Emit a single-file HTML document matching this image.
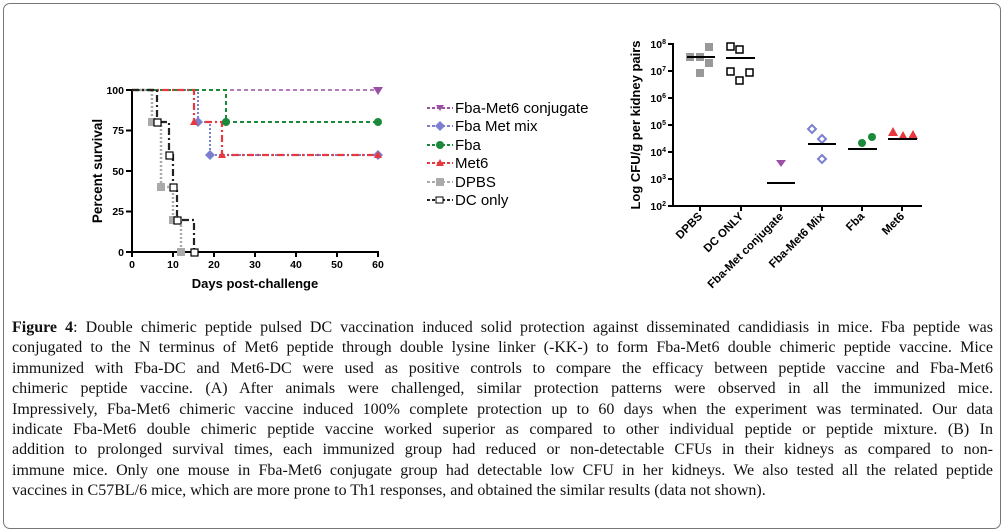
<!DOCTYPE html>
<html><head><meta charset="utf-8"><style>
html,body{margin:0;padding:0;background:#fff;}
body{width:1005px;height:531px;position:relative;overflow:hidden;}
.box{position:absolute;left:3px;top:3px;width:996px;height:524px;border:1px solid #777;border-radius:7px;}
svg{position:absolute;left:0;top:0;}
.cap{position:absolute;left:12px;top:318px;width:981px;font-family:"Liberation Serif",serif;font-size:16px;color:#111;}
.cap div{height:20.4px;line-height:20.4px;text-align:justify;text-align-last:justify;white-space:nowrap;}
.cap div.last{text-align-last:left;}
</style></head><body>
<div class="box"></div>
<svg width="1005" height="531" font-family="Liberation Sans, Arial, sans-serif">
<g stroke="#000" stroke-width="2" fill="none">
<line x1="132" y1="89" x2="132" y2="253"/>
<line x1="131" y1="252" x2="379" y2="252"/>
<line x1="126" y1="90" x2="132" y2="90"/><line x1="126" y1="130.5" x2="132" y2="130.5"/><line x1="126" y1="171" x2="132" y2="171"/><line x1="126" y1="211.5" x2="132" y2="211.5"/><line x1="126" y1="252" x2="132" y2="252"/>
<line x1="132" y1="252" x2="132" y2="257"/><line x1="173" y1="252" x2="173" y2="257"/><line x1="214" y1="252" x2="214" y2="257"/><line x1="255" y1="252" x2="255" y2="257"/><line x1="296" y1="252" x2="296" y2="257"/><line x1="337" y1="252" x2="337" y2="257"/><line x1="378" y1="252" x2="378" y2="257"/>
</g>
<g font-size="10.5" font-weight="bold" text-anchor="end">
<text x="124" y="94">100</text><text x="124" y="134">75</text><text x="124" y="175">50</text><text x="124" y="215">25</text><text x="124" y="256">0</text>
</g>
<g font-size="10.5" font-weight="bold" text-anchor="middle">
<text x="132" y="268">0</text><text x="173" y="268">10</text><text x="214" y="268">20</text><text x="255" y="268">30</text><text x="296" y="268">40</text><text x="337" y="268">50</text><text x="378" y="268">60</text>
</g>
<text x="255" y="288" font-size="13" font-weight="bold" text-anchor="middle">Days post-challenge</text>
<text transform="translate(102,171) rotate(-90)" font-size="13.5" font-weight="bold" text-anchor="middle">Percent survival</text>
<g fill="none">
<polyline points="132,90 378,90" stroke="#9b4fa5" stroke-width="1.5" stroke-dasharray="4,3"/>
<polyline points="132,90 198,90 198,122 210,122 210,155 378,155" stroke="#7b7fcf" stroke-width="2" stroke-dasharray="2,2"/>
<polyline points="132,90 226,90 226,122 378,122" stroke="#1a8a3a" stroke-width="2" stroke-dasharray="4,3"/>
<polyline points="132,90 194,90 194,122 222,122 222,155 378,155" stroke="#e8383f" stroke-width="2.2" stroke-dasharray="7,3,2,3"/>
<polyline points="132,90 152,90 152,122 161,122 161,187 173,187 173,220 181,220 181,252" stroke="#aaa" stroke-width="2.5" stroke-dasharray="2,2"/>
<polyline points="132,90 157,90 157,122 169,122 169,155 173,155 173,187 177,187 177,220 194,220 194,252" stroke="#222" stroke-width="2.2" stroke-dasharray="7,3,2,3"/>
</g>
<polygon points="373,87 383,87 378,95" fill="#9b4fa5"/>
<g fill="#7b7fcf"><polygon points="198,117 203,122 198,127 193,122"/><polygon points="210,150 215,155 210,160 205,155"/><polygon points="378,150 383,155 378,160 373,155"/></g>
<g fill="#1a8a3a"><circle cx="226" cy="122" r="4"/><circle cx="378" cy="122" r="4"/></g>
<g fill="#e8383f"><polygon points="194,118 198,125 190,125"/><polygon points="222,151 226,158 218,158"/><polygon points="378,151 382,158 374,158"/></g>
<g fill="#aaa"><rect x="148" y="118" width="8" height="8"/><rect x="157" y="183" width="8" height="8"/><rect x="169" y="216" width="8" height="8"/><rect x="177" y="248" width="8" height="8"/></g>
<g fill="#fff" stroke="#000" stroke-width="1.2"><rect x="154" y="119" width="7" height="7"/><rect x="166" y="152" width="7" height="7"/><rect x="170" y="184" width="7" height="7"/><rect x="174" y="217" width="7" height="7"/><rect x="191" y="249" width="7" height="7"/></g>
<g font-size="15">
<line x1="427" y1="108" x2="453" y2="108" stroke="#9b4fa5" stroke-width="2" stroke-dasharray="3,2"/><polygon points="436,105 444,105 440,111" fill="#9b4fa5"/><text x="455" y="113">Fba-Met6 conjugate</text>
<line x1="427" y1="126" x2="453" y2="126" stroke="#7b7fcf" stroke-width="2" stroke-dasharray="3,2"/><polygon points="440,121 445,126 440,131 435,126" fill="#7b7fcf"/><text x="455" y="131">Fba Met mix</text>
<line x1="427" y1="145" x2="453" y2="145" stroke="#1a8a3a" stroke-width="2" stroke-dasharray="3,2"/><circle cx="440" cy="145" r="4" fill="#1a8a3a"/><text x="455" y="150">Fba</text>
<line x1="427" y1="163" x2="453" y2="163" stroke="#e8383f" stroke-width="2" stroke-dasharray="3,2"/><polygon points="440,159 444,166 436,166" fill="#e8383f"/><text x="455" y="168">Met6</text>
<line x1="427" y1="182" x2="453" y2="182" stroke="#aaa" stroke-width="2" stroke-dasharray="3,2"/><rect x="436" y="178" width="8" height="8" fill="#aaa"/><text x="455" y="187">DPBS</text>
<line x1="427" y1="200" x2="453" y2="200" stroke="#222" stroke-width="2" stroke-dasharray="3,2"/><rect x="436" y="197" width="7" height="6" fill="#fff" stroke="#000"/><text x="455" y="205">DC only</text>
</g>
<g stroke="#000" stroke-width="2" fill="none">
<line x1="673" y1="43" x2="673" y2="207"/>
<line x1="672" y1="206" x2="922" y2="206"/>
<line x1="668" y1="44" x2="673" y2="44"/><line x1="668" y1="71" x2="673" y2="71"/><line x1="668" y1="98" x2="673" y2="98"/><line x1="668" y1="125" x2="673" y2="125"/><line x1="668" y1="152" x2="673" y2="152"/><line x1="668" y1="179" x2="673" y2="179"/><line x1="668" y1="206" x2="673" y2="206"/>
<line x1="700" y1="206" x2="700" y2="211"/><line x1="741" y1="206" x2="741" y2="211"/><line x1="781" y1="206" x2="781" y2="211"/><line x1="822" y1="206" x2="822" y2="211"/><line x1="862" y1="206" x2="862" y2="211"/><line x1="902" y1="206" x2="902" y2="211"/>
</g>
<g font-size="10.5" font-weight="bold" text-anchor="end">
<text x="666" y="48">10<tspan font-size="7" dy="-4">8</tspan></text>
<text x="666" y="75">10<tspan font-size="7" dy="-4">7</tspan></text>
<text x="666" y="102">10<tspan font-size="7" dy="-4">6</tspan></text>
<text x="666" y="129">10<tspan font-size="7" dy="-4">5</tspan></text>
<text x="666" y="156">10<tspan font-size="7" dy="-4">4</tspan></text>
<text x="666" y="183">10<tspan font-size="7" dy="-4">3</tspan></text>
<text x="666" y="210">10<tspan font-size="7" dy="-4">2</tspan></text>
</g>
<text transform="translate(640,125) rotate(-90)" font-size="13" font-weight="bold" text-anchor="middle">Log CFU/g per kidney pairs</text>
<g font-size="11.5" font-weight="bold" text-anchor="end">
<text transform="translate(703,217) rotate(-45)">DPBS</text>
<text transform="translate(744,217) rotate(-45)">DC ONLY</text>
<text transform="translate(784,217) rotate(-45)">Fba-Met conjugate</text>
<text transform="translate(825,217) rotate(-45)">Fba-Met6 Mix</text>
<text transform="translate(865,217) rotate(-45)">Fba</text>
<text transform="translate(905,217) rotate(-45)">Met6</text>
</g>
<g fill="#999"><rect x="686" y="53" width="8" height="8"/><rect x="696" y="53" width="8" height="8"/><rect x="705" y="43" width="8" height="8"/><rect x="705" y="59" width="8" height="8"/><rect x="696" y="69" width="8" height="8"/></g>
<g fill="#fff" stroke="#000" stroke-width="1.5"><rect x="727" y="43" width="7" height="7"/><rect x="736" y="46" width="7" height="7"/><rect x="727" y="68" width="7" height="7"/><rect x="736" y="77" width="7" height="7"/><rect x="746" y="69" width="7" height="7"/></g>
<polygon points="776,160 786,160 781,167" fill="#9b4fa5"/>
<g fill="#fff" stroke="#7b7fcf" stroke-width="2"><polygon points="812,125 816,129 812,133 808,129"/><polygon points="822,135 826,139 822,143 818,139"/><polygon points="822,155 826,159 822,163 818,159"/></g>
<g fill="#1a8a3a"><circle cx="862" cy="143" r="4"/><circle cx="872" cy="137" r="4"/></g>
<g fill="#e8383f"><polygon points="893,127 898,136 888,136"/><polygon points="903,131 908,140 898,140"/><polygon points="913,130 918,139 908,139"/></g>
<g stroke="#000" stroke-width="2">
<line x1="687" y1="57" x2="715" y2="57"/><line x1="726" y1="58" x2="755" y2="58"/><line x1="767" y1="183" x2="795" y2="183"/><line x1="808" y1="144" x2="836" y2="144"/><line x1="848" y1="149" x2="877" y2="149"/><line x1="888" y1="139" x2="917" y2="139"/>
</g>
</svg>
<div class="cap">
<div><b>Figure 4</b>: Double chimeric peptide pulsed DC vaccination induced solid protection against disseminated candidiasis in mice. Fba peptide was</div>
<div>conjugated to the N terminus of Met6 peptide through double lysine linker (-KK-) to form Fba-Met6 double chimeric peptide vaccine. Mice</div>
<div>immunized with Fba-DC and Met6-DC were used as positive controls to compare the efficacy between peptide vaccine and Fba-Met6</div>
<div>chimeric peptide vaccine. (A) After animals were challenged, similar protection patterns were observed in all the immunized mice.</div>
<div>Impressively, Fba-Met6 chimeric vaccine induced 100% complete protection up to 60 days when the experiment was terminated. Our data</div>
<div>indicate Fba-Met6 double chimeric peptide vaccine worked superior as compared to other individual peptide or peptide mixture. (B) In</div>
<div>addition to prolonged survival times, each immunized group had reduced or non-detectable CFUs in their kidneys as compared to non-</div>
<div>immune mice. Only one mouse in Fba-Met6 conjugate group had detectable low CFU in her kidneys. We also tested all the related peptide</div>
<div class="last">vaccines in C57BL/6 mice, which are more prone to Th1 responses, and obtained the similar results (data not shown).</div>
</div>
</body></html>
